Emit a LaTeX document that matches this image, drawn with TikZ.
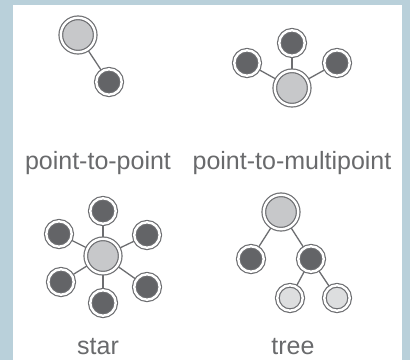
\documentclass[tikz,border=0pt]{standalone}
\usepackage{fontspec}
\setmainfont{Liberation Sans}
\definecolor{panelblue}{RGB}{185,208,218}
\definecolor{ringgrey}{RGB}{109,110,113}
\definecolor{hubgrey}{RGB}{199,200,202}
\definecolor{leafdark}{RGB}{99,100,103}
\definecolor{leaflight}{RGB}{221,222,223}
\definecolor{labelgrey}{RGB}{105,106,108}
\begin{document}
\begin{tikzpicture}[x=1pt,y=-1pt]
\tikzstyle{ring} = [circle, inner sep=0pt, outer sep=2pt, draw=ringgrey, line width=1.2pt, double=white, double distance=2.4pt]
\tikzstyle{hub} = [ring, minimum size=34.4pt, fill=hubgrey]
\tikzstyle{leaf} = [ring, minimum size=25.4pt, fill=leafdark]
\tikzstyle{twig} = [ring, minimum size=25.4pt, fill=leaflight]
\tikzstyle{link} = [draw=ringgrey, line width=1.3pt]
\tikzstyle{caption} = [anchor=base, inner sep=0pt, text=labelgrey, font=\fontsize{25}{25}\selectfont]

\useasboundingbox (0,0) rectangle (410,360);
\fill [panelblue] (0,0) rectangle (410,360);
\fill [white] (13,5) rectangle (402,360);

% point-to-point
\node (PtpHub) [hub] at (78,35) {};
\node (PtpLeaf) [leaf] at (109,82) {};
\draw [link] (PtpHub) -- (PtpLeaf);

% point-to-multipoint
\node (PtmHub) [hub] at (292,88) {};
\node (PtmTop) [leaf] at (292,43) {};
\node (PtmLeft) [leaf] at (247,63) {};
\node (PtmRight) [leaf] at (337,63) {};
\draw [link] (PtmHub) -- (PtmTop);
\draw [link] (PtmHub) -- (PtmLeft);
\draw [link] (PtmHub) -- (PtmRight);

% star
\node (StarHub) [hub] at (103,256) {};
\node (StarTop) [leaf] at (103,211) {};
\node (StarUpperLeft) [leaf] at (59,234) {};
\node (StarUpperRight) [leaf] at (147,235) {};
\node (StarLowerLeft) [leaf] at (61,282) {};
\node (StarLowerRight) [leaf] at (147,287) {};
\node (StarBottom) [leaf] at (103,303) {};
\draw [link] (StarHub) -- (StarTop);
\draw [link] (StarHub) -- (StarUpperLeft);
\draw [link] (StarHub) -- (StarUpperRight);
\draw [link] (StarHub) -- (StarLowerLeft);
\draw [link] (StarHub) -- (StarLowerRight);
\draw [link] (StarHub) -- (StarBottom);

% tree
\node (TreeRoot) [hub] at (281,212) {};
\node (TreeLeft) [leaf] at (251,259) {};
\node (TreeRight) [leaf] at (311,259) {};
\node (TreeLowLeft) [twig] at (290,298) {};
\node (TreeLowRight) [twig] at (337,298) {};
\draw [link] (TreeRoot) -- (TreeLeft);
\draw [link] (TreeRoot) -- (TreeRight);
\draw [link] (TreeRight) -- (TreeLowLeft);
\draw [link] (TreeRight) -- (TreeLowRight);

\node (PtpLabel) [caption] at (98,169) {point-to-point};
\node (PtmLabel) [caption] at (292,169) {point-to-multipoint};
\node (StarLabel) [caption] at (98,354) {star};
\node (TreeLabel) [caption] at (293,354) {tree};

\end{tikzpicture}
\end{document}
